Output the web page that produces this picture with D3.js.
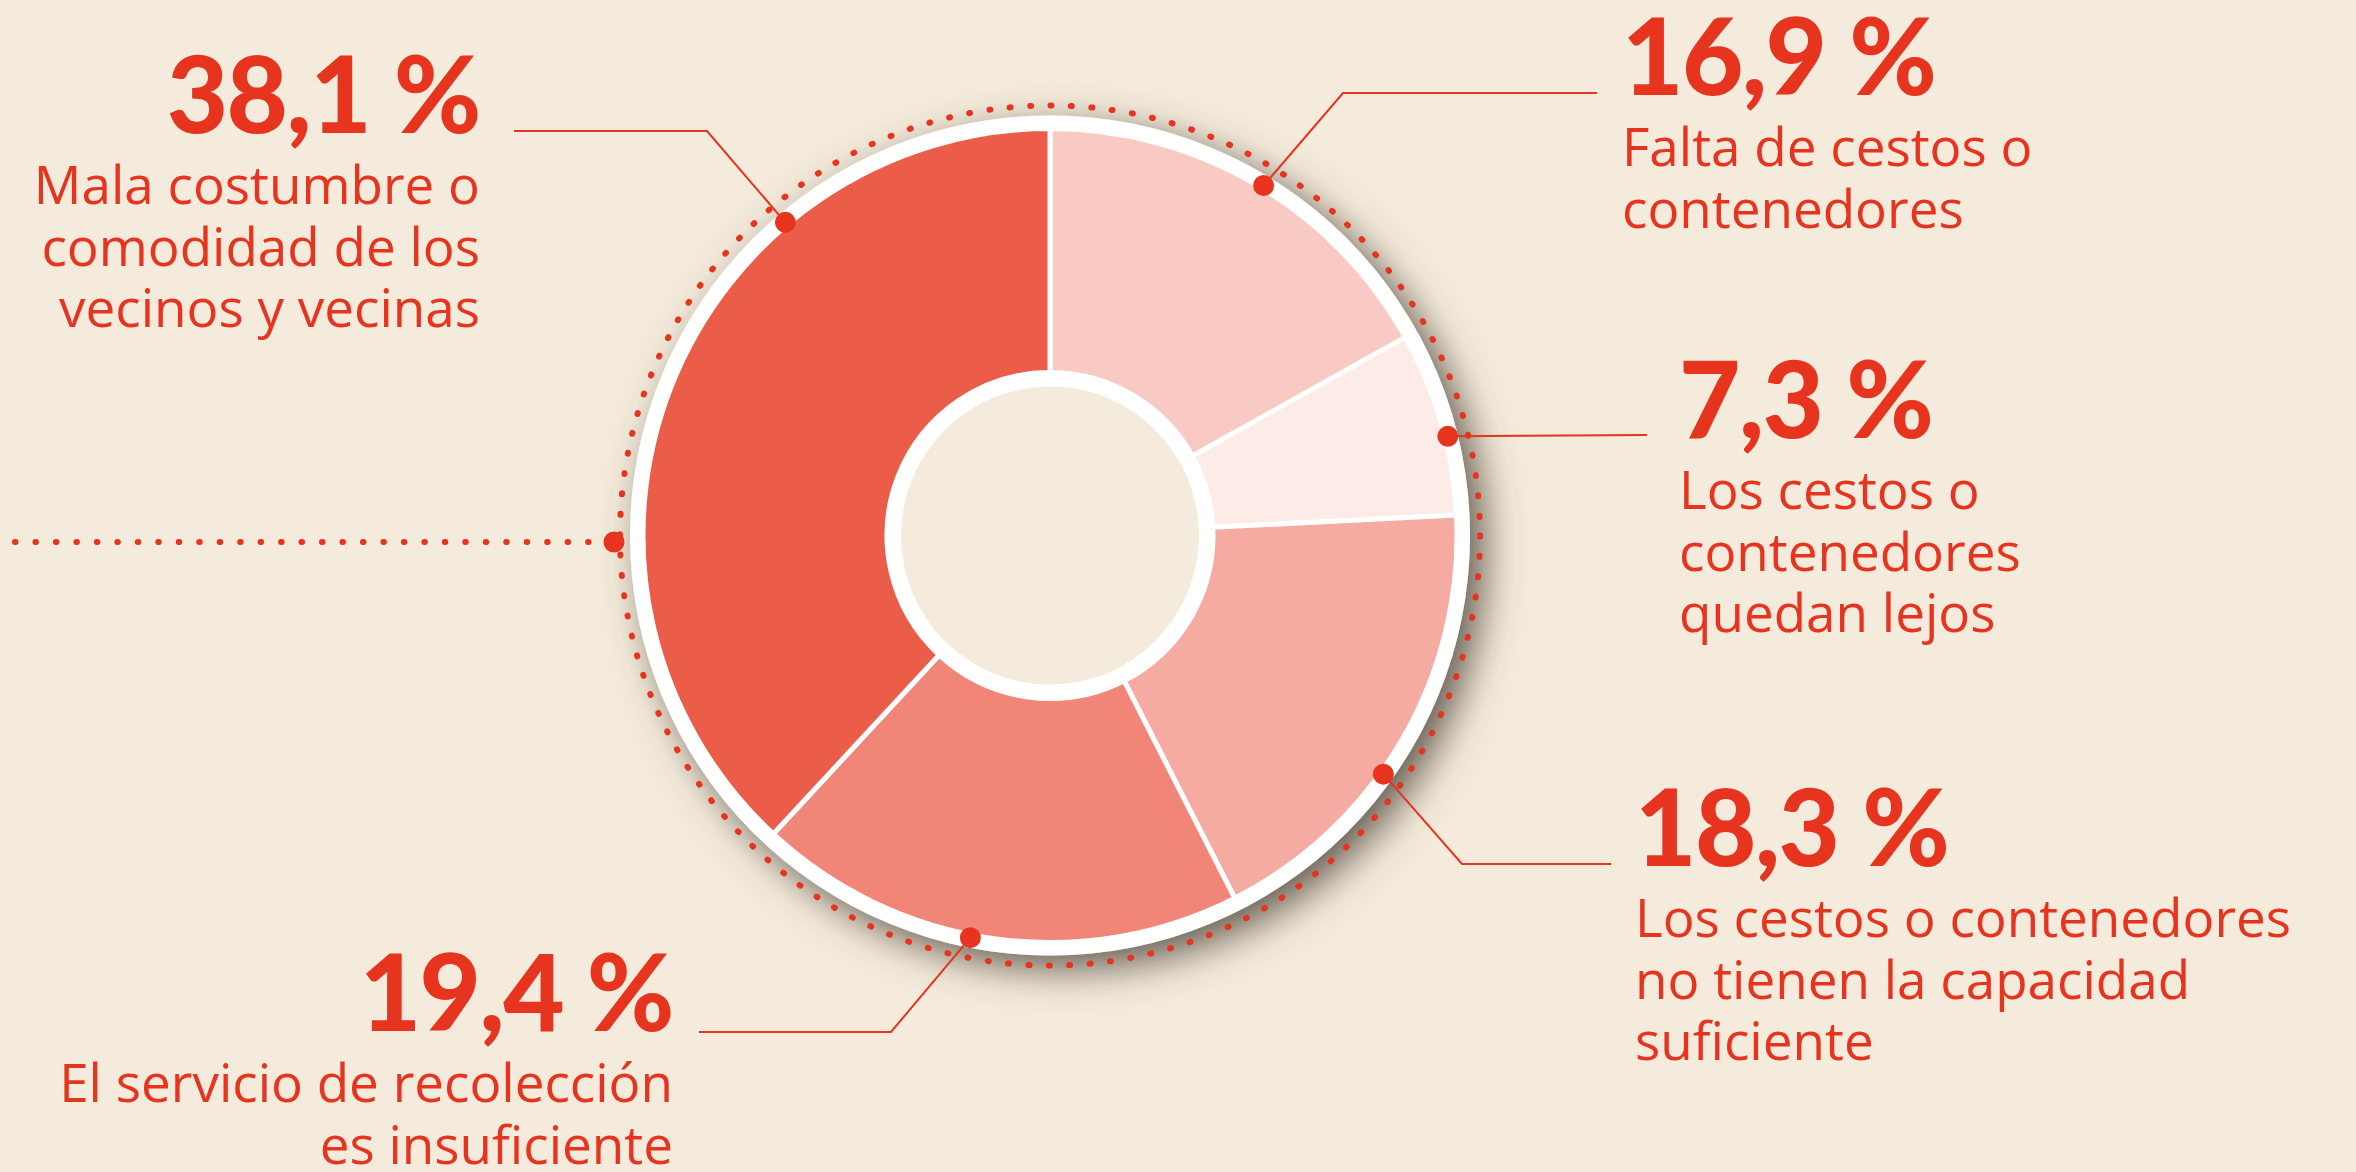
<!DOCTYPE html>
<html>
<head>
<meta charset="utf-8">
<script src="https://cdn.jsdelivr.net/npm/d3@7"></script>
<style>
  html, body { margin: 0; padding: 0; background: #F4EBDC; }
  svg { display: block; }
</style>
</head>
<body>
<div id="chart"></div>
<script>
// data: clockwise from 12 o'clock
const causes = [
  ["Falta de cestos o", "contenedores"],
  ["Los cestos o", "contenedores", "quedan lejos"],
  ["Los cestos o contenedores", "no tienen la capacidad", "suficiente"],
  ["El servicio de recolección", "es insuficiente"],
  ["Mala costumbre o", "comodidad de los", "vecinos y vecinas"]
];
const shares = [16.9, 7.3, 18.3, 19.4, 38.1];
const colors = ["#F9CAC3", "#FDEBE8", "#F5AAA2", "#F08578", "#EB5C49"];

// callout layout (anchor angle on the ring in degrees, elbow, text anchor)
const callouts = [
  { deg: 31.4,  elbow: [1343, 93],  end: [1597, 93],  tx: 1622, ty: 95,   align: "start" },
  { deg: 76,    elbow: null,        end: [1647, 435], tx: 1679, ty: 438,  align: "start" },
  { deg: 125.6, elbow: [1462, 864], end: [1611, 864], tx: 1635, ty: 866,  align: "start" },
  { deg: 191.2, elbow: [891, 1032], end: [699, 1032], tx: 673,  ty: 1031, align: "end" },
  { deg: 319.8, elbow: [707, 131],  end: [514, 131],  tx: 480,  ty: 133,  align: "end" }
];

const W = 2356, H = 1172;
const cx = 1050, cy = 535.5;
const red = "#E6341F";
const bg = "#F4EBDC";

const svg = d3.select("#chart").append("svg")
  .attr("width", W)
  .attr("height", H);

svg.append("rect").attr("width", W).attr("height", H).attr("fill", bg);

// soft shadow for the outer ring
const defs = svg.append("defs");
const f = defs.append("filter").attr("id", "shadow")
  .attr("x", "-25%").attr("y", "-25%").attr("width", "150%").attr("height", "150%");
f.append("feGaussianBlur").attr("in", "SourceAlpha").attr("stdDeviation", 20).attr("result", "b");
f.append("feOffset").attr("in", "b").attr("dx", 14).attr("dy", 13).attr("result", "o");
f.append("feFlood").attr("flood-color", "#4a4236").attr("flood-opacity", 0.85).attr("result", "c");
f.append("feComposite").attr("in", "c").attr("in2", "o").attr("operator", "in").attr("result", "s");
const m = f.append("feMerge");
m.append("feMergeNode").attr("in", "s");
m.append("feMergeNode").attr("in", "SourceGraphic");

// left dotted guide
const rDots = 430;
const dotGap = 2 * Math.PI * rDots / 132;
svg.append("line")
  .attr("x1", 15).attr("x2", cx - 436 - 20)
  .attr("y1", cy + 6.5).attr("y2", cy + 6.5)
  .attr("stroke", red)
  .attr("stroke-width", 6)
  .attr("stroke-linecap", "round")
  .attr("stroke-dasharray", `0.5 ${dotGap - 0.5}`);

const g = svg.append("g").attr("transform", `translate(${cx},${cy})`);

g.append("circle").attr("r", 420).attr("fill", "#fff").attr("filter", "url(#shadow)");

g.append("circle")
  .attr("r", rDots)
  .attr("fill", "none")
  .attr("stroke", red)
  .attr("stroke-width", 6)
  .attr("stroke-linecap", "round")
  .attr("stroke-dasharray", `1 ${dotGap - 1}`);

const pie = d3.pie().sort(null).value(d => d);
const arc = d3.arc().innerRadius(163).outerRadius(407);

g.selectAll("path.slice")
  .data(pie(shares))
  .join("path")
    .attr("class", "slice")
    .attr("d", arc)
    .attr("fill", (d, i) => colors[i])
    .attr("stroke", "#fff")
    .attr("stroke-width", 5)
    .attr("stroke-linejoin", "round");

g.append("circle").attr("r", 164).attr("fill", "#fff");
g.append("circle").attr("r", 149).attr("fill", bg);

// dot on the dotted guide
svg.append("circle")
  .attr("cx", cx - 436).attr("cy", cy + 6.5)
  .attr("r", 10.5)
  .attr("fill", red);

// callouts
const anchor = deg => {
  const a = deg * Math.PI / 180;
  return [cx + 410 * Math.sin(a), cy - 410 * Math.cos(a)];
};
const line = d3.line();
const fmt = d3.formatLocale({ decimal: ",", thousands: ".", grouping: [3], currency: ["", " €"] }).format(".1f");

callouts.forEach((c, i) => {
  const p = anchor(c.deg);
  const pts = c.elbow ? [p, c.elbow, c.end] : [p, c.end];
  svg.append("path")
    .attr("d", line(pts))
    .attr("fill", "none")
    .attr("stroke", red)
    .attr("stroke-width", 2);
  svg.append("circle")
    .attr("cx", p[0]).attr("cy", p[1])
    .attr("r", 10.5)
    .attr("fill", red);

  svg.append("text")
    .attr("x", c.tx).attr("y", c.ty)
    .attr("text-anchor", c.align)
    .attr("fill", red)
    .style("font-family", "Lato, sans-serif")
    .style("font-weight", 900)
    .style("font-size", "106px")
    .style("letter-spacing", "-1.5px")
    .text(`${fmt(shares[i])} %`);

  svg.append("text")
    .attr("text-anchor", c.align)
    .attr("fill", red)
    .style("font-family", "'Open Sans', sans-serif")
    .style("font-size", "53px")
    .selectAll("tspan")
    .data(causes[i])
    .join("tspan")
      .attr("x", c.tx)
      .attr("y", (d, j) => c.ty + 71 + j * 61.5)
      .text(d => d);
});
</script>
</body>
</html>
